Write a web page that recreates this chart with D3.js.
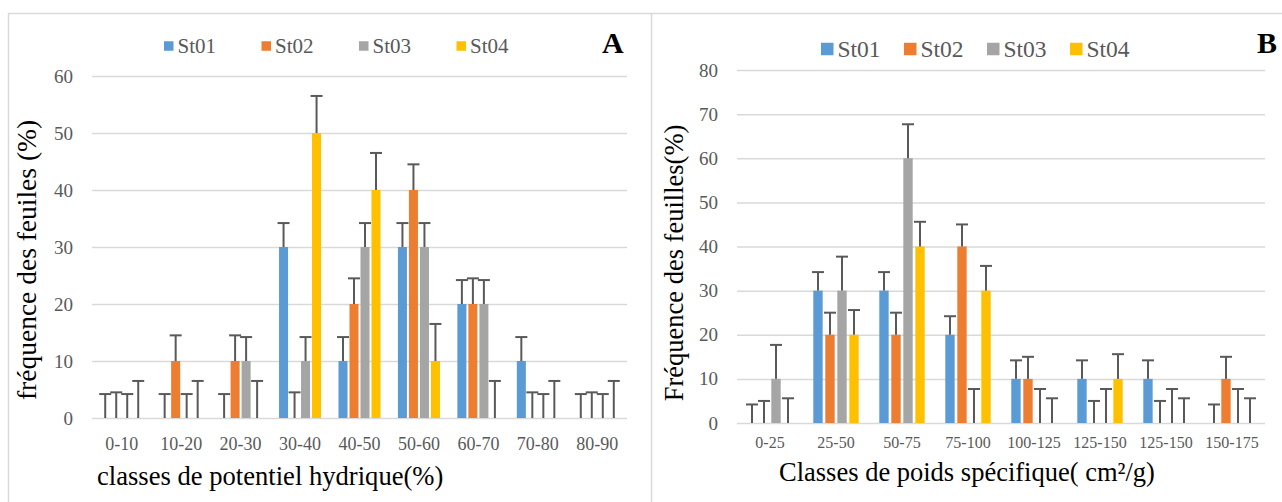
<!DOCTYPE html>
<html>
<head>
<meta charset="utf-8">
<script src="https://cdn.jsdelivr.net/npm/d3@7"></script>
<style>
  body { margin: 0; background: #fff; }
  svg { display: block; }
  svg text { font-family: "Liberation Serif", "Times New Roman", serif; }
</style>
</head>
<body>
<svg id="chart"></svg>
<script>
// series shared by both panels
var seriesNames = ["St01", "St02", "St03", "St04"];
var seriesColors = ["#5b9bd5", "#ed7d31", "#a5a5a5", "#ffc000"];

// panel A : classes de potentiel hydrique
var categoriesA = ["0-10", "10-20", "20-30", "30-40", "40-50", "50-60", "60-70", "70-80", "80-90"];
var st01A = [0, 0, 0, 30, 10, 30, 20, 10, 0];
var st02A = [0, 10, 10, 0, 20, 40, 20, 0, 0];
var st03A = [0, 0, 10, 10, 30, 30, 20, 0, 0];
var st04A = [0, 0, 0, 50, 40, 10, 0, 0, 0];
var errorsA = [4.2, 4.5, 4.2, 6.5];   // fixed + error per station
var ticksA = [0, 10, 20, 30, 40, 50, 60];

// panel B : classes de poids specifique
var categoriesB = ["0-25", "25-50", "50-75", "75-100", "100-125", "125-150", "125-150", "150-175"];
var st01B = [0, 30, 30, 20, 10, 10, 10, 0];
var st02B = [0, 20, 20, 40, 10, 0, 0, 10];
var st03B = [10, 30, 60, 0, 0, 0, 0, 0];
var st04B = [0, 20, 40, 30, 0, 10, 0, 0];
var errorsB = [4.2, 5, 7.7, 5.6];
var ticksB = [0, 10, 20, 30, 40, 50, 60, 70, 80];

var svgWidth = 1282, svgHeight = 502;
var serif = "'Liberation Serif', 'Times New Roman', serif";
var svg = d3.select("#chart")
    .attr("width", svgWidth)
    .attr("height", svgHeight);

// panel frames
var frameColor = "#d9d9d9";
svg.append("line").attr("x1", 8).attr("x2", svgWidth).attr("y1", 13.5).attr("y2", 13.5)
    .attr("stroke", frameColor).attr("stroke-width", 1.5);
svg.append("line").attr("x1", 8.5).attr("x2", 8.5).attr("y1", 13).attr("y2", svgHeight)
    .attr("stroke", frameColor).attr("stroke-width", 1.5);
svg.append("line").attr("x1", 651.5).attr("x2", 651.5).attr("y1", 13).attr("y2", svgHeight)
    .attr("stroke", frameColor).attr("stroke-width", 1.5);

function drawPanel(p) {
    var g = svg.append("g");
    var values = p.series;

    var x0 = d3.scaleBand()
        .domain(d3.range(p.categories.length))
        .range([p.left, p.right])
        .paddingInner(p.groupPad)
        .paddingOuter(p.groupPad / 2);

    var x1 = d3.scaleBand()
        .domain(d3.range(seriesNames.length))
        .range([0, x0.bandwidth()])
        .paddingInner(p.barPad);

    var y = d3.scaleLinear()
        .domain([0, d3.max(p.ticks)])
        .range([p.bottom, p.top]);

    // gridlines + tick labels
    var yAxis = g.append("g")
        .attr("transform", "translate(" + p.left + ",0)")
        .call(d3.axisLeft(y).tickValues(p.ticks).tickSize(-(p.right - p.left)).tickPadding(p.left - p.tickRight));
    yAxis.attr("font-family", serif);
    yAxis.select(".domain").remove();
    yAxis.selectAll(".tick line").attr("stroke", "#d9d9d9").attr("stroke-width", 1.5);
    yAxis.selectAll(".tick text")
        .attr("fill", "#595959")
        .attr("font-family", serif)
        .style("font-size", p.tickFont + "px");

    // category labels
    var xAxis = g.append("g")
        .attr("transform", "translate(0," + p.bottom + ")")
        .call(d3.axisBottom(x0).tickSize(0).tickFormat(function (i) { return p.categories[i]; }));
    xAxis.attr("font-family", serif);
    xAxis.select(".domain").remove();
    xAxis.selectAll(".tick text")
        .attr("y", p.catBaseline - p.bottom)
        .attr("dy", 0)
        .attr("fill", "#595959")
        .attr("font-family", serif)
        .style("font-size", p.catFont + "px");

    // bars and error bars
    var rows = [];
    p.categories.forEach(function (c, i) {
        seriesNames.forEach(function (s, j) {
            rows.push({ cat: i, ser: j, value: values[j][i], err: p.errors[j] });
        });
    });

    g.selectAll("rect.bar")
        .data(rows.filter(function (d) { return d.value > 0; }))
        .enter()
        .append("rect")
        .attr("class", "bar")
        .attr("x", function (d) { return x0(d.cat) + x1(d.ser); })
        .attr("y", function (d) { return y(d.value); })
        .attr("width", x1.bandwidth())
        .attr("height", function (d) { return y(0) - y(d.value); })
        .attr("fill", function (d) { return seriesColors[d.ser]; });

    var capHalf = 6;
    var err = g.selectAll("g.err")
        .data(rows)
        .enter()
        .append("g")
        .attr("class", "err")
        .attr("stroke", "#595959")
        .attr("stroke-width", 2);
    err.append("line")
        .attr("x1", function (d) { return x0(d.cat) + x1(d.ser) + x1.bandwidth() / 2; })
        .attr("x2", function (d) { return x0(d.cat) + x1(d.ser) + x1.bandwidth() / 2; })
        .attr("y1", function (d) { return y(d.value); })
        .attr("y2", function (d) { return y(d.value + d.err); });
    err.append("line")
        .attr("x1", function (d) { return x0(d.cat) + x1(d.ser) + x1.bandwidth() / 2 - capHalf; })
        .attr("x2", function (d) { return x0(d.cat) + x1(d.ser) + x1.bandwidth() / 2 + capHalf; })
        .attr("y1", function (d) { return y(d.value + d.err); })
        .attr("y2", function (d) { return y(d.value + d.err); });

    // legend
    var leg = g.selectAll("g.leg")
        .data(seriesNames)
        .enter()
        .append("g")
        .attr("class", "leg")
        .attr("transform", function (d, i) { return "translate(" + (p.legX + i * p.legStep) + "," + p.legY + ")"; });
    leg.append("rect")
        .attr("x", 0).attr("y", -p.legBox / 2)
        .attr("width", p.legBox).attr("height", p.legBox)
        .attr("fill", function (d, i) { return seriesColors[i]; });
    leg.append("text")
        .attr("x", p.legBox + 4)
        .attr("y", p.legFont * 0.34)
        .attr("fill", "#595959")
        .attr("font-family", serif)
        .style("font-size", p.legFont + "px")
        .text(function (d) { return d; });

    // panel letter
    g.append("text")
        .attr("x", p.letterX).attr("y", 53)
        .attr("font-family", serif)
        .style("font-size", "30px").style("font-weight", "bold")
        .attr("fill", "#000")
        .text(p.letter);

    // axis titles
    g.append("text")
        .attr("transform", "translate(" + p.yTitleX + "," + p.yTitleY + ") rotate(-90)")
        .attr("text-anchor", "middle")
        .attr("font-family", serif)
        .style("font-size", p.yTitleFont + "px")
        .attr("fill", "#000")
        .text(p.yTitle);
    g.append("text")
        .attr("x", p.xTitleX).attr("y", p.xTitleY)
        .attr("font-family", serif)
        .style("font-size", p.xTitleFont + "px")
        .attr("fill", "#000")
        .text(p.xTitle);
}

drawPanel({
    categories: categoriesA, series: [st01A, st02A, st03A, st04A], errors: errorsA, ticks: ticksA,
    left: 92, right: 627, top: 76, bottom: 418, tickRight: 73,
    groupPad: 0.293, barPad: 0.18,
    tickFont: 19, catFont: 18, catBaseline: 450,
    legX: 164, legStep: 97.5, legY: 46, legBox: 9.5, legFont: 21,
    letter: "A", letterX: 602,
    yTitle: "fréquence des feuiles (%)", yTitleX: 36, yTitleY: 260, yTitleFont: 27.5,
    xTitle: "classes de potentiel hydrique(%)", xTitleX: 97, xTitleY: 485, xTitleFont: 26.6
});

drawPanel({
    categories: categoriesB, series: [st01B, st02B, st03B, st04B], errors: errorsB, ticks: ticksB,
    left: 737, right: 1265, top: 70, bottom: 423, tickRight: 718,
    groupPad: 0.312, barPad: 0.22,
    tickFont: 19, catFont: 16, catBaseline: 448,
    legX: 821, legStep: 83, legY: 49, legBox: 12.5, legFont: 23.5,
    letter: "B", letterX: 1257,
    yTitle: "Fréquence des feuilles(%)", yTitleX: 683, yTitleY: 263, yTitleFont: 26.5,
    xTitle: "Classes de poids spécifique( cm²/g)", xTitleX: 779, xTitleY: 481, xTitleFont: 26.5
});
</script>
</body>
</html>
